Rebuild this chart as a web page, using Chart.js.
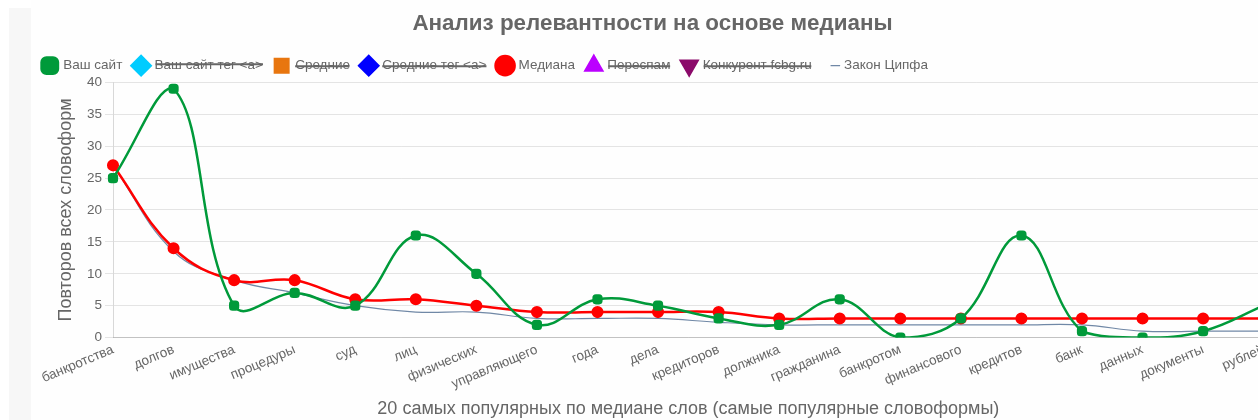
<!DOCTYPE html>
<html>
<head>
<meta charset="utf-8">
<script src="https://cdn.jsdelivr.net/npm/chart.js@4.4.1/dist/chart.umd.min.js"></script>
<style>
  html, body { margin: 0; padding: 0; overflow: hidden; background: #fff; width: 1258px; height: 420px; }
  .strip { position: absolute; left: 9px; top: 8px; width: 1300px; height: 420px; background: #f7f7f7; }
  .panel { position: absolute; left: 31px; top: 0; width: 1243px; height: 420px; background: #fefefe; }
</style>
</head>
<body>
<div class="strip"></div>
<div class="panel"><canvas id="chart"></canvas></div>
<script>
// ============ DATA ============
const WORDS = ["банкротства", "долгов", "имущества", "процедуры", "суд", "лиц", "физических",
  "управляющего", "года", "дела", "кредиторов", "должника", "гражданина", "банкротом",
  "финансового", "кредитов", "банк", "данных", "документы", "рублей"];

const YOUR_SITE = [25, 39, 5, 7, 5, 16, 10, 2, 6, 5, 3, 2, 6, 0, 3, 16, 1, 0, 1, 5];
const MEDIAN = [27, 14, 9, 9, 6, 6, 5, 4, 4, 4, 4, 3, 3, 3, 3, 3, 3, 3, 3, 3];
const ZIPF = [27, 13.5, 9, 7, 5, 4, 4, 3, 3, 3, 2.4, 2, 2, 2, 2, 2, 2, 1, 1, 1];
// series switched off in the legend, nothing drawn for them
const YOUR_SITE_A = [];
const AVERAGE = [];
const AVERAGE_A = [];
const SPAM = [];
const COMPETITOR = [];

const TITLE = "Анализ релевантности на основе медианы";
const Y_TITLE = "Повторов всех словоформ";
const X_TITLE = "20 самых популярных по медиане слов (самые популярные словоформы)";

// ============ CHART ============
const FONT = "'Liberation Sans', Arial, Helvetica, sans-serif";
Chart.defaults.font.family = FONT;
Chart.defaults.color = "#666";

function series(label, data, color, style, extra) {
  return Object.assign({
    label, data,
    borderColor: color, backgroundColor: color,
    pointStyle: style, pointRadius: 4.5, pointHoverRadius: 5,
    borderWidth: 2.5, tension: 0.4, fill: false
  }, extra || {});
}

new Chart(document.getElementById("chart"), {
  type: "line",
  data: {
    labels: WORDS,
    datasets: [
      series("Ваш сайт", YOUR_SITE, "#009a3a", "rectRounded", { pointRadius: 4.5 }),
      series("Ваш сайт тег <a>", YOUR_SITE_A, "#00ccff", "rectRot", { hidden: true }),
      series("Средние", AVERAGE, "#e8760f", "rect", { hidden: true }),
      series("Средние тег <a>", AVERAGE_A, "#0000ff", "rectRot", { hidden: true }),
      series("Медиана", MEDIAN, "#ff0000", "circle", { pointRadius: 4.8 }),
      series("Переспам", SPAM, "#bb00ff", "triangle", { hidden: true }),
      series("Конкурент fcbg.ru", COMPETITOR, "#8b0a6a", "triangle", { hidden: true, pointRotation: 180 }),
      series("Закон Ципфа", ZIPF, "#7088a6", "dash", { borderWidth: 1.2, pointRadius: 0 })
    ]
  },
  options: {
    responsive: true,
    maintainAspectRatio: false,
    animation: false,
    layout: { padding: { left: 0, right: 0, top: 4, bottom: 0 } },
    plugins: {
      title: {
        display: true, text: TITLE, color: "#666",
        font: { size: 22.4, weight: "bold" }, padding: { top: 6, bottom: 10 }
      },
      legend: {
        align: "start",
        labels: { usePointStyle: true, boxHeight: 14, font: { size: 13.5 }, color: "#666", padding: 12 }
      },
      tooltip: { enabled: false }
    },
    scales: {
      x: {
        grid: { display: false, drawTicks: false },
        border: { color: "rgba(0,0,0,0.15)" },
        ticks: { font: { size: 13.5 }, minRotation: 23, maxRotation: 23, autoSkip: false, padding: 4 },
        title: { display: true, text: X_TITLE, font: { size: 18 }, color: "#666", padding: { top: 2, bottom: 0 } }
      },
      y: {
        min: 0, max: 40,
        grid: { color: "rgba(0,0,0,0.1)", tickLength: 8 },
        border: { color: "rgba(0,0,0,0.15)" },
        ticks: { stepSize: 5, font: { size: 13.5 }, padding: 3 },
        title: { display: true, text: Y_TITLE, font: { size: 18 }, color: "#666", padding: { top: 24, bottom: 4 } },
        afterFit: (scale) => { scale.width = Math.max(scale.width, 82); }
      }
    }
  }
});
</script>
</body>
</html>
